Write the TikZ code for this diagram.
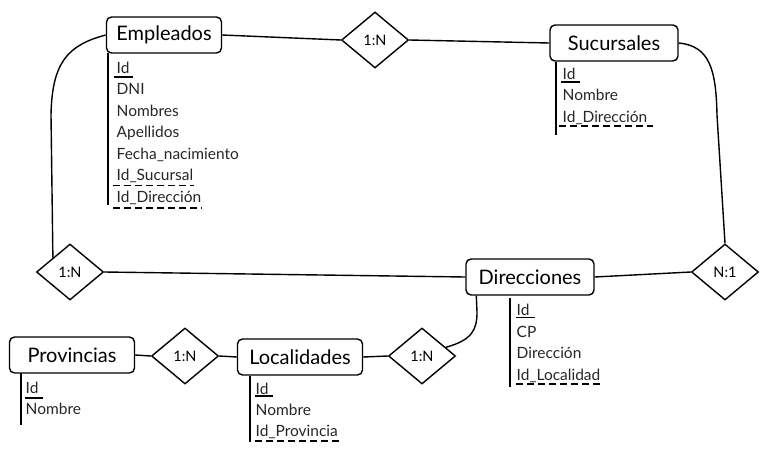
\documentclass[tikz,border=0pt]{standalone}
\usepackage{fontspec}
\setmainfont{Lato}
\usetikzlibrary{shapes.geometric}
\tikzset{entidad/.style={draw, rounded corners=5pt, line width=1.4pt, minimum height=36pt, inner sep=0pt, font=\fontsize{20}{24}\selectfont},
relacion/.style={draw, diamond, line width=1.4pt, minimum width=67pt, minimum height=56pt, inner sep=0pt, font=\fontsize{14.5}{17}\selectfont},
atrib/.style={anchor=base west, inner sep=0pt, font=\fontsize{15.5}{18}\selectfont, text=black!85},
%linea de clave ajena
fk/.style={line width=1.4pt, dash pattern=on 7pt off 4pt},
pk/.style={line width=1.4pt}}

\begin{document}
	\begin{tikzpicture}[x=1pt,y=-1pt,line width=1.4pt]
		\useasboundingbox (0,0) rectangle (770,452);

		% entidades y relaciones
		\node[entidad, minimum width=115pt] (emp) at (164,35) {Empleados};
		\node[entidad, minimum width=128pt] (suc) at (614,43) {Sucursales};
		\node[entidad, minimum width=128pt] (dir) at (530,277) {Direcciones};
		\node[entidad, minimum width=125pt] (prov) at (72,355) {Provincias};
		\node[entidad, minimum width=125pt] (loc) at (300,357) {Localidades};
		\node[relacion] (r-emp-suc) at (375,40) {1:N};
		\node[relacion] (r-dir-emp) at (70,272) {1:N};
		\node[relacion] (r-dir-suc) at (725,272) {N:1};
		\node[relacion] (r-prov-loc) at (185,356) {1:N};
		\node[relacion] (r-loc-dir) at (422,356) {1:N};

		\draw
		(emp.east) -- (r-emp-suc.west)
		(r-emp-suc.east) -- (suc.west)
		(suc.east) .. controls (710,46) and (716,70) .. (717,115) -- (r-dir-suc.north)
		(emp.west) .. controls (68,45) and (52,62) .. (51,115) -- (r-dir-emp.north west)
		(r-dir-emp.east) -- (dir.west)
		(dir.east) -- (r-dir-suc.west)
		(prov.east) -- (r-prov-loc.west)
		(r-prov-loc.east) -- (loc.west)
		(loc.east) -- (r-loc-dir.west)
		(r-loc-dir.20) .. controls (472,340) and (477,330) .. (477,312) -- ([xshift=11pt]dir.south west)
		;

		% atributos Empleados
		\draw (108,53) -- (108,205);
		\node[atrib] (emp-id) at (116,73) {Id};
		\node[atrib] (emp-dni) at (116,94.5) {DNI};
		\node[atrib] (emp-nom) at (116,116) {Nombres};
		\node[atrib] (emp-ape) at (116,137.5) {Apellidos};
		\node[atrib] (emp-fec) at (116,159) {Fecha\_nacimiento};
		\node[atrib] (emp-suc) at (116,180.5) {Id\_Sucursal};
		\node[atrib] (emp-dir) at (116,202) {Id\_Dirección};
		\draw[pk] ([xshift=-2pt,yshift=-4pt]emp-id.base west) -- ([xshift=3pt,yshift=-4pt]emp-id.base east);
		\draw[fk] ([xshift=-3pt,yshift=-5pt]emp-suc.base west) -- ([yshift=-5pt]emp-suc.base east);
		\draw[fk] ([xshift=-3pt,yshift=-6pt]emp-dir.base west) -- ([yshift=-6pt]emp-dir.base east);

		% atributos Sucursales
		\draw (556,62) -- (556,135);
		\node[atrib] (suc-id) at (562,79) {Id};
		\node[atrib] (suc-nom) at (562,100.5) {Nombre};
		\node[atrib] (suc-dir) at (562,122) {Id\_Dirección};
		\draw[pk] ([xshift=-1pt,yshift=-3pt]suc-id.base west) -- ([xshift=4pt,yshift=-3pt]suc-id.base east);
		\draw[fk] ([xshift=-3pt,yshift=-4pt]suc-dir.base west) -- ([xshift=5pt,yshift=-4pt]suc-dir.base east);

		% atributos Direcciones
		\draw (510,298) -- (510,387);
		\node[atrib] (dir-id) at (516,315.5) {Id};
		\node[atrib] (dir-cp) at (516,337) {CP};
		\node[atrib] (dir-dir) at (516,358.5) {Dirección};
		\node[atrib] (dir-loc) at (516,380) {Id\_Localidad};
		\draw[pk] ([yshift=-2pt]dir-id.base west) -- ([xshift=5pt,yshift=-2pt]dir-id.base east);
		\draw[fk] ([yshift=-4pt]dir-loc.base west) -- ([yshift=-4pt]dir-loc.base east);

		% atributos Provincias
		\draw (21,373) -- (21,425);
		\node[atrib] (prov-id) at (25,393) {Id};
		\node[atrib] (prov-nom) at (25,414.5) {Nombre};
		\draw[pk] ([yshift=-5pt]prov-id.base west) -- ([xshift=4pt,yshift=-5pt]prov-id.base east);

		% atributos Localidades
		\draw (250,376) -- (250,442);
		\node[atrib] (loc-id) at (255,394) {Id};
		\node[atrib] (loc-nom) at (255,415) {Nombre};
		\node[atrib] (loc-prov) at (255,436) {Id\_Provincia};
		\draw[pk] ([yshift=-2pt]loc-id.base west) -- ([xshift=4pt,yshift=-2pt]loc-id.base east);
		\draw[fk] ([yshift=-5pt]loc-prov.base west) -- ([xshift=3pt,yshift=-5pt]loc-prov.base east);

	\end{tikzpicture}
\end{document}
